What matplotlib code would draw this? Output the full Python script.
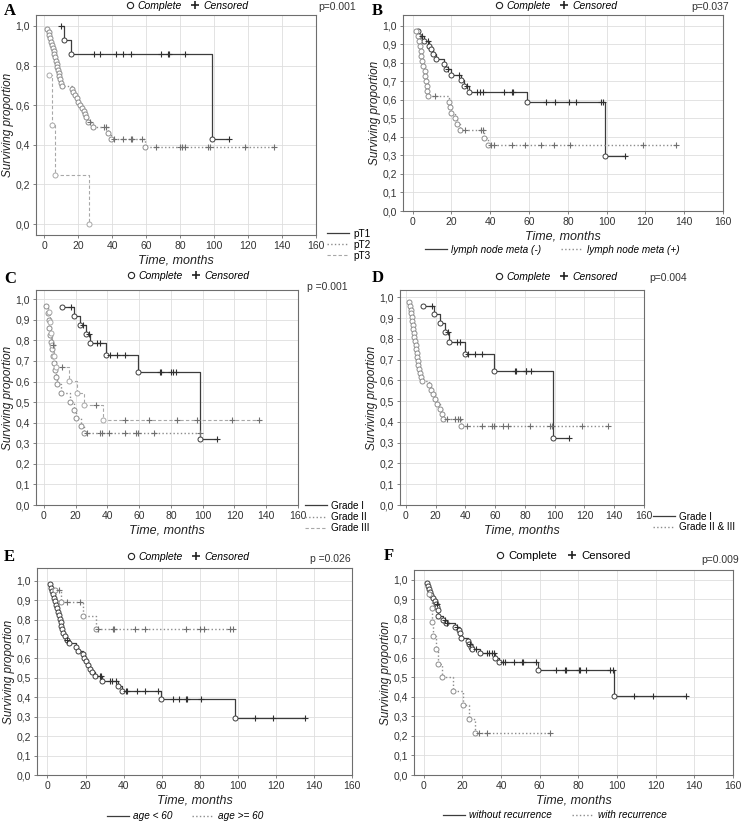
import matplotlib
matplotlib.use("Agg")
import matplotlib.pyplot as plt
from matplotlib.lines import Line2D
from matplotlib.ticker import FuncFormatter, MultipleLocator

# ---- data (event times / survival after event, censored times)
# A: pT stage
A_pT1_t = [11.5, 15.5, 98.5]
A_pT1_s = [0.929, 0.857, 0.429]
A_pT1_c = [10, 29, 32.5, 42, 46.5, 51, 68.5, 73, 73.5, 83, 109]

A_pT2_t = [1.6, 2.5, 2.9, 3.3, 3.9, 4.3, 4.9, 5.5, 5.9, 6.3, 6.9, 7.3, 7.5, 7.9, 8.3, 8.7, 9.1, 9.5, 10.2,
           16, 17, 18, 19, 20, 21, 22, 23, 24, 24.5, 25.5, 28.5, 37.5, 39, 59]
A_pT2_s = [0.984, 0.968, 0.952, 0.937, 0.921, 0.905, 0.889, 0.873, 0.857, 0.841, 0.825, 0.810, 0.794, 0.778,
           0.762, 0.746, 0.730, 0.714, 0.698, 0.682, 0.666, 0.650, 0.634, 0.618, 0.602, 0.586, 0.570, 0.554,
           0.538, 0.516, 0.49, 0.46, 0.43, 0.387]
A_pT2_c = [27, 35, 36.5, 41, 46.5, 51, 51.5, 57.5, 65.5, 80, 81, 83, 96.5, 97.5, 118, 135.5]

A_pT3_t = [2.7, 4.3, 6.3, 26.5]
A_pT3_s = [0.75, 0.5, 0.25, 0.0]
A_pT3_c = []

# B: lymph node metastasis
B_neg_t = [2.5, 3.5, 6, 8.5, 9.5, 10.5, 12, 16, 17, 19.5, 25, 26.5, 29, 59, 99]
B_neg_s = [0.972, 0.945, 0.918, 0.891, 0.872, 0.845, 0.818, 0.791, 0.764, 0.736, 0.705, 0.675, 0.645, 0.589, 0.295]
B_neg_c = [5, 8, 18, 24, 28, 33, 34.5, 36, 47, 51, 51.5, 68.5, 73.5, 80.5, 84, 97, 98, 109.5]

B_pos_t = [1.5, 2.5, 3.3, 3.8, 4.2, 4.5, 4.8, 5.5, 6.2, 6.6, 7, 7.3, 7.6, 8,
           18.5, 19, 20, 22, 23, 24.5, 37, 39]
B_pos_s = [0.973, 0.946, 0.919, 0.892, 0.865, 0.838, 0.811, 0.784, 0.757, 0.730, 0.703, 0.676, 0.649, 0.622,
           0.59, 0.56, 0.53, 0.50, 0.467, 0.435, 0.395, 0.355]
B_pos_c = [11.5, 27, 35, 36.5, 40.5, 42, 51, 58, 66, 73, 81, 118.5, 136]

# C: grade
C_g1_t = [11.5, 19, 23, 26.5, 29, 39, 59, 98.5]
C_g1_s = [0.96, 0.92, 0.875, 0.833, 0.785, 0.727, 0.646, 0.323]
C_g1_c = [17, 24.5, 28.5, 33.5, 35, 41.5, 46, 51, 73, 73.5, 80, 81, 83, 109]

C_g2_t = [1.5, 2.5, 3, 3.5, 4, 4.5, 5, 6, 6.5, 7, 7.5, 8.5, 10.5, 16.5, 19, 20, 23.5, 25.5]
C_g2_s = [0.966, 0.931, 0.897, 0.862, 0.828, 0.793, 0.759, 0.724, 0.690, 0.655, 0.621, 0.586, 0.545,
          0.50, 0.46, 0.425, 0.385, 0.35]
C_g2_c = [27, 35, 36.5, 41, 51, 58, 59, 69, 98]

C_g3_t = [3, 4, 4.5, 5, 6.5, 7.5, 16, 21, 25, 37]
C_g3_s = [0.94, 0.89, 0.835, 0.78, 0.725, 0.67, 0.605, 0.545, 0.485, 0.415]
C_g3_c = [6, 11.5, 33, 51, 66, 83.5, 96.5, 118.5, 135.5]

# D: grade I vs II & III
D_g1_t = [11.5, 19, 23, 26.5, 29, 39.5, 59.5, 99]
D_g1_s = [0.96, 0.92, 0.875, 0.833, 0.785, 0.727, 0.646, 0.323]
D_g1_c = [17.5, 28.5, 34.5, 36, 42, 46.5, 51, 73.5, 74, 80.5, 81, 84, 109.5]

D_g23_t = [2, 2.7, 3.2, 3.4, 3.8, 4.3, 4.5, 4.9, 5.4, 5.6, 6.1, 6.5, 6.8, 7.2, 7.6, 7.9, 8.3, 8.8, 9.5, 10.1,
           10.6, 15.3, 16.9, 18.5, 19.6, 20.7, 23.2, 24.3, 25, 37]
D_g23_s = [0.979, 0.960, 0.941, 0.922, 0.903, 0.884, 0.865, 0.846, 0.827, 0.808, 0.789, 0.770, 0.751, 0.732,
           0.713, 0.694, 0.675, 0.656, 0.637, 0.618, 0.599, 0.577, 0.555, 0.532, 0.51, 0.487, 0.463, 0.44,
           0.416, 0.382]
D_g23_c = [27.5, 33, 35, 36.5, 41, 51, 58, 59, 65.5, 68.5, 83.5, 97, 98, 118.5, 135.5]

# E: age
E_lt60_t = [1.5, 2, 2.5, 3, 3.5, 4, 4.5, 5, 5.5, 6, 6.5, 7, 7.3, 7.6, 8, 9, 10, 11.5, 15, 16, 18.5, 19, 20,
            21.5, 22.5, 23.5, 25, 28.5, 37, 39, 59.5, 98.5]
E_lt60_s = [0.982, 0.964, 0.946, 0.929, 0.911, 0.893, 0.875, 0.857, 0.839, 0.821, 0.804, 0.786, 0.768, 0.750,
            0.732, 0.714, 0.696, 0.677, 0.658, 0.640, 0.621, 0.603, 0.584, 0.565, 0.547, 0.528, 0.509, 0.483,
            0.457, 0.433, 0.392, 0.294]
E_lt60_c = [10.5, 27.5, 28, 33, 34, 36, 41, 42, 47, 51, 58, 66, 69, 73, 73.5, 80.5, 109, 118.5, 135.5]

E_ge60_t = [4.2, 7.3, 18.8, 25.3]
E_ge60_s = [0.95, 0.89, 0.82, 0.75]
E_ge60_c = [6, 10.2, 17.1, 26.6, 34.6, 35.2, 46, 51, 72.7, 80, 82.5, 96, 97.5]

# F: recurrence
F_wo_t = [1.7, 2.5, 3, 3.5, 4, 5, 6, 6.5, 7, 7.3, 7.6, 10.2, 11.6, 16.2, 18.4, 19, 19.3, 22.7, 23.5, 24.4,
          25, 29, 37, 39, 59, 98.5]
F_wo_s = [0.981, 0.966, 0.951, 0.936, 0.921, 0.906, 0.891, 0.876, 0.861, 0.846, 0.812, 0.795, 0.776, 0.757,
          0.743, 0.728, 0.703, 0.688, 0.672, 0.656, 0.645, 0.625, 0.60, 0.578, 0.54, 0.405]
F_wo_c = [6.8, 10.8, 12, 17.5, 23.8, 27, 33, 34, 35.5, 36.5, 41, 42, 46.5, 51, 51.5, 58, 68.5, 73, 73.5,
          80.5, 81, 84, 96.5, 98, 109, 118.5, 135.5]

F_w_t = [2.8, 4.2, 4.4, 4.6, 6.4, 7.6, 9.4, 15.4, 20.6, 23.2, 26.6]
F_w_s = [0.929, 0.857, 0.786, 0.714, 0.643, 0.571, 0.50, 0.429, 0.357, 0.286, 0.214]
F_w_c = [28.5, 32.5, 65.5]

p_values = ["p=0.001", "p=0.037", "p =0.001", "p=0.004", "p =0.026", "p=0.009"]

W, H = 742, 822
plt.rcParams["font.family"] = ["Liberation Sans", "DejaVu Sans"]

SOLID = dict(ls="-", color="#3c3c3c", lw=0.9)
DOT = dict(ls=":", color="#8c8c8c", lw=1.0)
DASH = dict(ls=(0, (3, 2)), color="#a8a8a8", lw=0.8)


def fx(x):
    return x / W


def fy(y):
    return 1 - y / H


def km_points(ev_t, ev_s, cens):
    # merge events and censored cases into one ordered list of observations
    obs = [(t, 0, s) for t, s in zip(ev_t, ev_s)] + [(t, 1, None) for t in cens]
    obs.sort(key=lambda o: (o[0], o[1]))
    level = 1.0
    xs, ys, cx, cy = [], [], [], []
    for t, kind, s in obs:
        if kind == 0:
            level = s
        else:
            cx.append(t)
            cy.append(level)
        xs.append(t)
        ys.append(level)
    return xs, ys, cx, cy


def draw_km(ax, ev_t, ev_s, cens, style):
    xs, ys, cx, cy = km_points(ev_t, ev_s, cens)
    ax.plot(xs, ys, drawstyle="steps-post", zorder=2, **style)
    ax.plot(ev_t, ev_s, "o", ms=3.6, mfc="white", mec=style["color"], mew=0.7, zorder=3)
    ax.plot(cx, cy, "+", ms=4.5, color="#303030" if style is SOLID else "#707070", mew=0.8, zorder=4)


def make_axes(box, xlim, ylim, ystep):
    l, t, r, b = box
    ax = fig.add_axes([fx(l), fy(b), fx(r - l), (b - t) / H])
    ax.set_xlim(*xlim)
    ax.set_ylim(*ylim)
    ax.xaxis.set_major_locator(MultipleLocator(20))
    ax.yaxis.set_major_locator(MultipleLocator(ystep))
    ax.yaxis.set_major_formatter(FuncFormatter(lambda v, p: f"{v:.1f}".replace(".", ",")))
    ax.grid(True, color="#dedede", lw=0.6)
    ax.set_axisbelow(True)
    for sp in ax.spines.values():
        sp.set_color("#6e6e6e")
        sp.set_linewidth(0.8)
    ax.tick_params(labelsize=7.5, length=2.5, width=0.6, color="#6e6e6e", labelcolor="#333333", pad=2)
    ax.set_ylabel("Surviving proportion", style="italic", fontsize=8.5, color="#222222", labelpad=1)
    ax.set_xlabel("Time, months", style="italic", fontsize=9, color="#222222", labelpad=2)
    return ax


def top_legend(ax, cx, cy, italic=True):
    h = [Line2D([], [], ls="", marker="o", ms=4.5, mfc="white", mec="#222222", mew=0.8),
         Line2D([], [], ls="", marker="+", ms=6, color="#222222", mew=1.2)]
    leg = ax.legend(h, ["Complete", "Censored"], loc="center", bbox_to_anchor=(fx(cx), fy(cy)),
                    bbox_transform=fig.transFigure, ncol=2, frameon=False, handlelength=0.8,
                    handletextpad=0.35, columnspacing=0.9, borderpad=0,
                    prop=dict(size=7.5 if italic else 8.2, style="italic" if italic else "normal"))
    ax.add_artist(leg)


def series_legend(ax, styles, labels, loc, cx, cy, ncol, italic, spacing=0.1, hl=2.2):
    h = [Line2D([], [], **s) for s in styles]
    ax.legend(h, labels, loc=loc, bbox_to_anchor=(fx(cx), fy(cy)), bbox_transform=fig.transFigure,
              ncol=ncol, frameon=False, handlelength=hl, handletextpad=0.4, columnspacing=2.0,
              labelspacing=spacing, borderpad=0,
              prop=dict(size=7.2, style="italic" if italic else "normal"))


fig = plt.figure(figsize=(W / 100, H / 100), dpi=100)

# panel A
axA = make_axes((36, 15, 316, 235), (-5, 160), (-0.055, 1.055), 0.2)
draw_km(axA, A_pT1_t, A_pT1_s, A_pT1_c, SOLID)
draw_km(axA, A_pT2_t, A_pT2_s, A_pT2_c, DOT)
draw_km(axA, A_pT3_t, A_pT3_s, A_pT3_c, DASH)
top_legend(axA, 187, 6)
series_legend(axA, [SOLID, DOT, DASH], ["pT1", "pT2", "pT3"], "center left", 322, 245, 1, False)

# panel B
axB = make_axes((403, 15, 723, 211), (-5, 160), (0, 1.058), 0.1)
draw_km(axB, B_neg_t, B_neg_s, B_neg_c, SOLID)
draw_km(axB, B_pos_t, B_pos_s, B_pos_c, DOT)
top_legend(axB, 556, 6)
series_legend(axB, [SOLID, DOT], ["lymph node meta (-)", "lymph node meta (+)"], "center", 552, 250, 2, True)

# panel C
axC = make_axes((36, 290, 298, 505), (-5, 160), (0, 1.045), 0.1)
draw_km(axC, C_g1_t, C_g1_s, C_g1_c, SOLID)
draw_km(axC, C_g2_t, C_g2_s, C_g2_c, DOT)
draw_km(axC, C_g3_t, C_g3_s, C_g3_c, DASH)
top_legend(axC, 188, 276)
series_legend(axC, [SOLID, DOT, DASH], ["Grade I", "Grade II", "Grade III"], "center left", 300, 517, 1, False)

# panel D
axD = make_axes((400, 290, 644, 505), (-4, 160), (0, 1.035), 0.1)
draw_km(axD, D_g1_t, D_g1_s, D_g1_c, SOLID)
draw_km(axD, D_g23_t, D_g23_s, D_g23_c, DOT)
top_legend(axD, 556, 277)
series_legend(axD, [SOLID, DOT], ["Grade I", "Grade II & III"], "center left", 648, 522, 1, False)

# panel E
axE = make_axes((37, 568, 352, 775), (-5.5, 160), (0, 1.065), 0.1)
draw_km(axE, E_lt60_t, E_lt60_s, E_lt60_c, SOLID)
draw_km(axE, E_ge60_t, E_ge60_s, E_ge60_c, DOT)
top_legend(axE, 188, 557)
series_legend(axE, [SOLID, DOT], ["age < 60", "age >= 60"], "center", 185, 816, 2, True)

# panel F
axF = make_axes((414, 570, 733, 775), (-5, 160), (0, 1.05), 0.1)
draw_km(axF, F_wo_t, F_wo_s, F_wo_c, SOLID)
draw_km(axF, F_w_t, F_w_s, F_w_c, DOT)
top_legend(axF, 563, 556, italic=False)
series_legend(axF, [SOLID, DOT], ["without recurrence", "with recurrence"], "center", 555, 815, 2, True)

# panel letters and p-values
letters = ["A", "B", "C", "D", "E", "F"]
letter_pos = [(4, 11), (372, 11), (4, 279), (372, 278), (4, 557), (384, 556)]
p_pos = [(318, 7), (691, 7), (307, 287), (649, 278), (310, 559), (701, 560)]
for lab, (lx, ly), pv, (px, py) in zip(letters, letter_pos, p_values, p_pos):
    fig.text(fx(lx), fy(ly), lab, fontsize=12, fontweight="bold", family="Liberation Serif",
             ha="left", va="center")
    fig.text(fx(px), fy(py), pv, fontsize=7.5, color="#333333", ha="left", va="center")

fig.savefig("out.png", dpi=100)
